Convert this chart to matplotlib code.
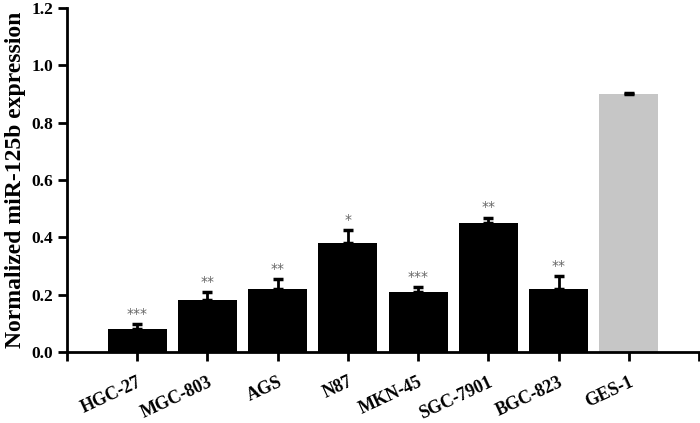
import matplotlib
matplotlib.use("Agg")
import matplotlib.pyplot as plt
import numpy as np

categories = ["HGC-27", "MGC-803", "AGS", "N87", "MKN-45", "SGC-7901", "BGC-823", "GES-1"]
values = [0.08, 0.18, 0.22, 0.38, 0.21, 0.45, 0.22, 0.90]
errors = [0.017, 0.028, 0.034, 0.045, 0.016, 0.019, 0.044, 0.003]
stars = ["***", "**", "**", "*", "***", "**", "**", ""]
colors = ["black"] * 7 + ["#c6c6c6"]

plt.rcParams['font.family'] = ['Liberation Serif', 'DejaVu Serif']
fig = plt.figure(figsize=(7, 4.23), dpi=100)
ax = fig.add_axes([67/700, 1-352/423, (699-67)/700, (352-8)/423])

x = np.arange(1, len(categories) + 1)
ax.bar(x, values, width=0.84, color=colors, zorder=2)
ax.errorbar(x, values, yerr=[np.zeros(len(values)), errors], fmt='none',
            ecolor='black', elinewidth=2, capsize=3.5, capthick=2.5, zorder=3)
for xi, v, e, s in zip(x, values, errors, stars):
    if s:
        ax.text(xi, v + e + 0.012, s, ha='center', va='bottom', fontsize=10,
                color='#666666', family='DejaVu Sans')

ax.set_xlim(0, 9)
ax.set_ylim(0, 1.2)
ax.set_yticks(np.arange(0, 1.21, 0.2))
ax.set_yticklabels([f"{t:.1f}" for t in np.arange(0, 1.21, 0.2)], fontsize=12.5, fontweight='bold')
ax.set_xticks(np.arange(0, 10))
ax.set_xticklabels([""] + categories + [""], rotation=25, ha='right',
                   rotation_mode='anchor', fontsize=13, fontweight='bold')
ax.set_ylabel("Normalized miR-125b expression", fontsize=17, fontweight='bold', labelpad=4)

for sp in ['top', 'right']:
    ax.spines[sp].set_visible(False)
for sp in ['left', 'bottom']:
    ax.spines[sp].set_linewidth(2)
ax.tick_params(axis='both', width=2, length=6.5, direction='out')
ax.tick_params(axis='x', pad=9)
ax.tick_params(axis='y', pad=3.5)

fig.savefig("out.png", dpi=100)
